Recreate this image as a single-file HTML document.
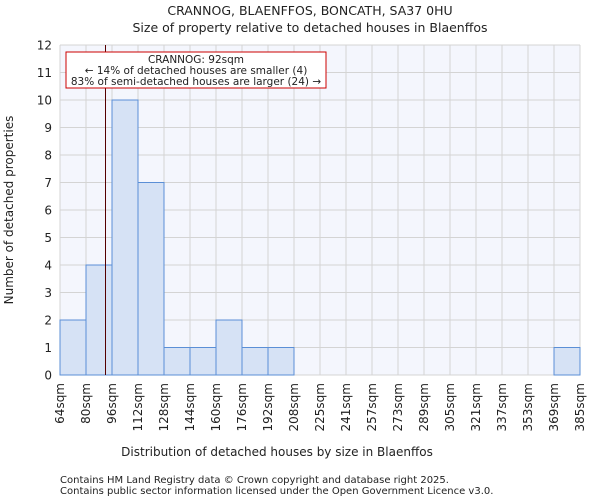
<!DOCTYPE html>
<html><head><meta charset="utf-8"><style>
body{margin:0;background:#fff;font-family:"DejaVu Sans","Liberation Sans",sans-serif;}
svg text{font-family:"DejaVu Sans","Liberation Sans",sans-serif;fill:#222;}
</style></head><body>
<svg width="600" height="500">
<text x="310" y="15" font-size="12.5" text-anchor="middle">CRANNOG, BLAENFFOS, BONCATH, SA37 0HU</text>
<text x="310" y="32" font-size="12.5" text-anchor="middle">Size of property relative to detached houses in Blaenffos</text>
<rect x="60" y="45" width="520" height="330" fill="#f4f6fd"/>
<g id="grid"></g><g id="bars"></g><g id="axes"></g>
<text x="277" y="456" font-size="12" text-anchor="middle">Distribution of detached houses by size in Blaenffos</text>
<text transform="translate(13,210) rotate(-90)" font-size="12" text-anchor="middle">Number of detached properties</text>
<text x="60" y="483" font-size="10">Contains HM Land Registry data © Crown copyright and database right 2025.</text>
<text x="60" y="494" font-size="10">Contains public sector information licensed under the Open Government Licence v3.0.</text>
<line x1="105.5" y1="45" x2="105.5" y2="375" stroke="#550000" stroke-width="1"/>
<rect x="66" y="52" width="260" height="36" fill="#fff" stroke="#cc0000"/>
<text x="196" y="63" font-size="10.5" text-anchor="middle">CRANNOG: 92sqm</text>
<text x="196" y="74" font-size="10.5" text-anchor="middle">← 14% of detached houses are smaller (4)</text>
<text x="196" y="85" font-size="10.5" text-anchor="middle">83% of semi-detached houses are larger (24) →</text>
</svg>
<script>
const binLabels=["64sqm","80sqm","96sqm","112sqm","128sqm","144sqm","160sqm","176sqm","192sqm","208sqm","225sqm","241sqm","257sqm","273sqm","289sqm","305sqm","321sqm","337sqm","353sqm","369sqm","385sqm"];
const counts=[2,4,10,7,1,1,2,1,1,0,0,0,0,0,0,0,0,0,0,1];
const yTicks=[0,1,2,3,4,5,6,7,8,9,10,11,12];
const NS="http://www.w3.org/2000/svg";
const X0=60,W=520,Y0=375,H=330,YMAX=12;
const bw=W/counts.length;
const xs=i=>X0+i*bw, ys=v=>Y0-v/YMAX*H;
function mk(t,a,p){const e=document.createElementNS(NS,t);for(const k in a)e.setAttribute(k,a[k]);p.appendChild(e);return e;}
const g=document.getElementById('grid'),b=document.getElementById('bars'),ax=document.getElementById('axes');
yTicks.forEach(v=>{
 const l=mk('line',{x1:X0,x2:X0+W,y1:ys(v),y2:ys(v),stroke:'#d4d4d4'},g);
 
 
 const t=mk('text',{x:X0-8,y:ys(v)+4.5,'font-size':12,'text-anchor':'end'},ax);t.textContent=v;
 
 
});
binLabels.forEach((s,i)=>{
 const l=mk('line',{x1:xs(i),x2:xs(i),y1:Y0-H,y2:Y0,stroke:'#d4d4d4'},g);
 
 
 const x=xs(i)+4;
 const t=mk('text',{x:x,y:Y0+8,'font-size':12,'text-anchor':'end',transform:`rotate(-90 ${x} ${Y0+8})`},ax);t.textContent=s;
 
 
});
counts.forEach((c,i)=>{
 if(!c)return;
 const r=mk('rect',{x:xs(i),y:ys(c),width:bw,height:Y0-ys(c),fill:'#d6e2f5',stroke:'#5b8fd6','stroke-width':1},b);
 
 
});
</script>
</body></html>
